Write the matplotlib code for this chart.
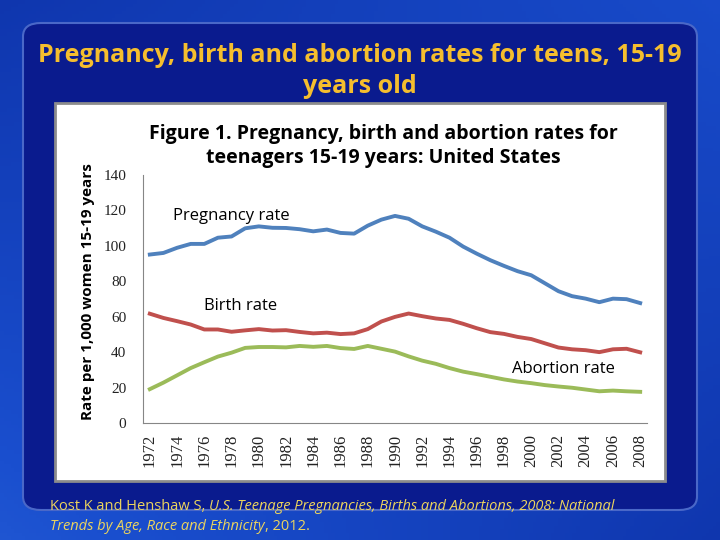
import numpy as np
import matplotlib
matplotlib.use("Agg")
import matplotlib.pyplot as plt
from matplotlib.patches import FancyBboxPatch, Rectangle

# data (rate per 1,000 women 15-19)
years = list(range(1972, 2009))
pregnancy = [95.1, 96.0, 98.9, 101.1, 101.1, 104.6, 105.3, 109.9, 111.0, 110.2,
             110.1, 109.4, 108.2, 109.2, 107.3, 106.9, 111.4, 114.8, 116.9, 115.3,
             111.0, 108.0, 104.6, 99.6, 95.6, 91.9, 88.7, 85.7, 83.4, 78.9,
             74.4, 71.6, 70.2, 68.2, 70.2, 69.9, 67.7]
birth = [61.7, 59.3, 57.5, 55.6, 52.8, 52.8, 51.5, 52.3, 53.0, 52.2,
         52.4, 51.4, 50.6, 51.0, 50.2, 50.6, 53.0, 57.3, 59.9, 61.8,
         60.3, 59.0, 58.2, 56.0, 53.5, 51.3, 50.3, 48.6, 47.4, 45.0,
         42.6, 41.6, 41.1, 40.0, 41.6, 41.9, 39.9]
abortion = [19.1, 22.8, 26.9, 31.0, 34.3, 37.5, 39.7, 42.4, 42.9, 42.9,
            42.7, 43.5, 43.0, 43.5, 42.3, 41.8, 43.5, 41.9, 40.3, 37.6,
            35.2, 33.4, 31.0, 29.0, 27.6, 26.1, 24.6, 23.4, 22.5, 21.4,
            20.6, 19.9, 18.9, 17.9, 18.3, 17.9, 17.6]
y_ticks = [0, 20, 40, 60, 80, 100, 120, 140]

fig = plt.figure(figsize=(7.2, 5.4), dpi=100)

# slide background
bg = fig.add_axes([0, 0, 1, 1])
gx, gy = np.meshgrid(np.linspace(0, 1, 200), np.linspace(0, 1, 150))
shade = 0.35 + 0.35 * gy * (1 - gx) + 0.25 * gx * (1 - gy)
bg.imshow(shade, cmap=matplotlib.colors.LinearSegmentedColormap.from_list(
    "slide", ["#0a2a9e", "#1a4fcf", "#4a8ae6"]), aspect="auto",
    extent=[0, 1, 0, 1], vmin=0.2, vmax=1.1)
bg.set_xlim(0, 1)
bg.set_ylim(0, 1)
bg.axis("off")

box = FancyBboxPatch((23 / 720, 1 - 510 / 540), 674 / 720, 487 / 540,
                     boxstyle="round,pad=0,rounding_size=0.025",
                     transform=fig.transFigure, facecolor="#0a1b8e",
                     edgecolor="#4a68c8", lw=1.5, zorder=1)
fig.patches.append(box)
panel = Rectangle((55 / 720, 1 - 481 / 540), 610 / 720, 378 / 540,
                  transform=fig.transFigure, facecolor="white",
                  edgecolor="#8c8c8c", lw=2, zorder=2)
fig.patches.append(panel)

gold = "#f5be2e"
fig.text(0.5, 1 - 71 / 540, "Pregnancy, birth and abortion rates for teens, 15-19\nyears old",
         ha="center", va="center", color=gold, fontsize=18, fontweight="bold",
         family="Open Sans", linespacing=1.35)

# chart
ax = fig.add_axes([143 / 720, 1 - 423 / 540, 504 / 720, 248 / 540])
ax.set_zorder(3)
ax.plot(years, pregnancy, color="#4f81bd", lw=2.8)
ax.plot(years, birth, color="#c0504d", lw=2.8)
ax.plot(years, abortion, color="#9bbb59", lw=2.8)
ax.set_xlim(1971.5, 2008.5)
ax.set_ylim(0, 140)
ax.set_yticks(y_ticks)
ax.set_xticks(years[::2])
ax.set_xticklabels([str(y) for y in years[::2]], rotation=90)
ax.tick_params(axis="x", length=0, labelsize=12, colors="#222222", pad=8)
ax.tick_params(axis="y", length=0, labelsize=11, colors="#222222", pad=12)
for lab in ax.get_xticklabels() + ax.get_yticklabels():
    lab.set_family("Liberation Serif")
for s in ["top", "right"]:
    ax.spines[s].set_visible(False)
ax.spines["left"].set_color("#868686")
ax.spines["bottom"].set_color("#868686")
ax.patch.set_alpha(0)

ax.set_ylabel("Rate per 1,000 women 15-19 years", fontsize=11, fontweight="bold",
              family="Open Sans", va="center")
ax.yaxis.set_label_coords(-0.109, 0.528)
fig.text(383 / 720, 1 - 146 / 540,
         "Figure 1. Pregnancy, birth and abortion rates for\nteenagers 15-19 years: United States",
         ha="center", va="center", fontsize=14, fontweight="bold", family="Open Sans",
         linespacing=1.3, zorder=5)

ax.text(1973.7, 117, "Pregnancy rate", fontsize=12, family="Open Sans", va="center")
ax.text(1975.95, 66, "Birth rate", fontsize=12, family="Open Sans", va="center")
ax.text(1998.6, 30.5, "Abortion rate", fontsize=12, family="Open Sans", va="center")

# citation, mixed upright / italic
fig.canvas.draw()
rend = fig.canvas.get_renderer()
cite_lines = [
    [("Kost K and Henshaw S, ", "normal"),
     ("U.S. Teenage Pregnancies, Births and Abortions, 2008: National", "italic")],
    [("Trends by Age, Race and Ethnicity", "italic"), (", 2012.", "normal")],
]
for i, parts in enumerate(cite_lines):
    x = 50 / 720
    y = 1 - (506 + i * 20) / 540
    for txt, style in parts:
        t = fig.text(x, y, txt, color="#ecd45e", fontsize=10.5, style=style,
                     family="Open Sans", va="center", zorder=5)
        bb = t.get_window_extent(renderer=rend)
        x += bb.width / fig.bbox.width

fig.savefig("out.png", dpi=100)
